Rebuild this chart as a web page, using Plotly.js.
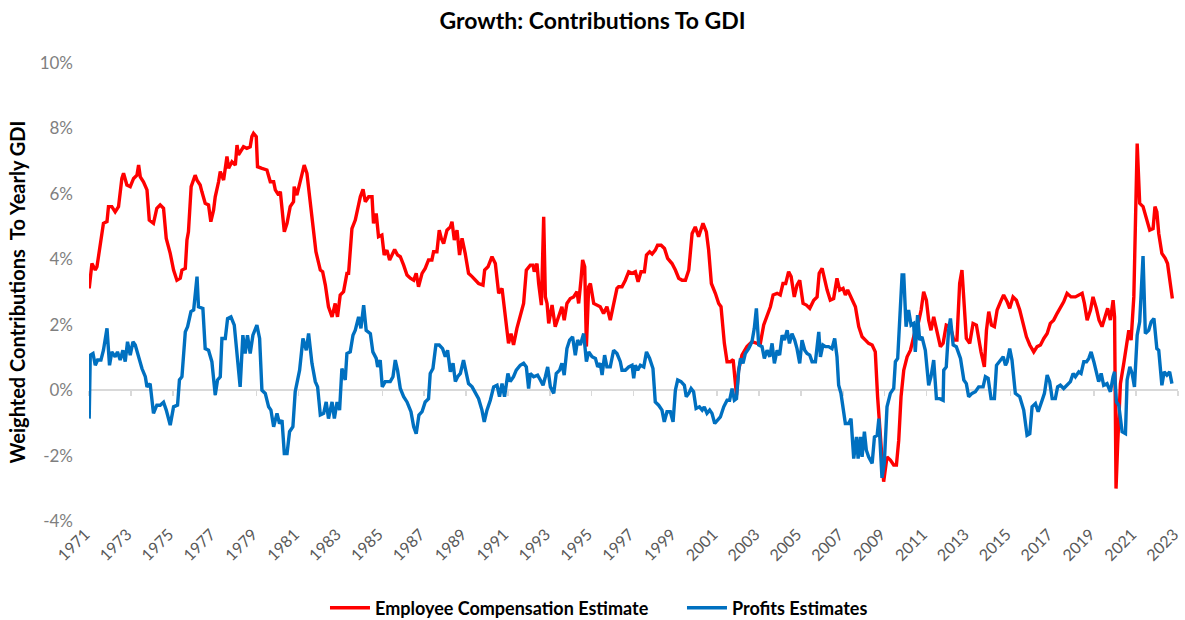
<!DOCTYPE html>
<html>
<head>
<meta charset="utf-8">
<script src="https://cdn.plot.ly/plotly-3.0.1.min.js"></script>
<style>html,body{margin:0;padding:0;background:#fff;}#chart{width:1185px;height:620px;}</style>
</head>
<body>
<div id="chart"></div>
<script>
var empYears = [1971.00,1971.13,1971.29,1971.37,1971.68,1971.85,1971.92,1972.08,1972.24,1972.40,1972.56,1972.64,1972.80,1972.96,1973.12,1973.28,1973.36,1973.44,1973.59,1973.76,1973.87,1974.07,1974.23,1974.39,1974.55,1974.68,1974.87,1975.03,1975.19,1975.35,1975.43,1975.59,1975.67,1975.74,1975.87,1976.06,1976.15,1976.30,1976.38,1976.54,1976.70,1976.81,1976.94,1977.02,1977.18,1977.26,1977.42,1977.58,1977.66,1977.82,1977.98,1978.06,1978.13,1978.30,1978.37,1978.53,1978.69,1978.77,1978.85,1978.98,1979.04,1979.25,1979.49,1979.65,1979.81,1979.89,1980.05,1980.13,1980.21,1980.32,1980.45,1980.60,1980.76,1980.79,1980.92,1981.08,1981.27,1981.40,1981.56,1981.72,1981.83,1982.04,1982.15,1982.28,1982.43,1982.60,1982.75,1982.86,1982.99,1983.15,1983.31,1983.39,1983.55,1983.71,1983.87,
1983.95,1984.08,1984.19,1984.35,1984.51,1984.58,1984.71,1984.82,1984.98,1985.09,1985.22,1985.35,1985.46,1985.59,1985.73,1985.86,1986.02,1986.18,1986.34,1986.50,1986.62,1986.73,1986.90,1987.05,1987.21,1987.37,1987.45,1987.61,1987.72,1987.82,1987.93,1988.09,1988.25,1988.33,1988.44,1988.57,1988.69,1988.81,1988.96,1989.12,1989.29,1989.44,1989.60,1989.81,1989.89,1990.05,1990.24,1990.40,1990.56,1990.72,1990.88,1991.03,1991.15,1991.27,1991.43,1991.59,1991.75,1991.88,1992.07,1992.20,1992.26,1992.39,1992.47,1992.60,1992.71,1992.79,1992.87,1992.95,1993.11,1993.26,1993.42,1993.58,1993.69,1993.82,1993.98,1994.14,1994.30,1994.38,1994.49,1994.57,1994.67,1994.75,1994.86,1994.94,1995.10,1995.26,1995.41,1995.57,1995.73,1995.89,1996.05,1996.21,
1996.29,1996.45,1996.61,1996.77,1996.93,1997.09,1997.22,1997.36,1997.52,1997.62,1997.77,1997.89,1998.04,1998.15,1998.32,1998.48,1998.63,1998.84,1999.00,1999.16,1999.32,1999.48,1999.64,1999.80,1999.95,2000.11,2000.32,2000.48,2000.59,2000.72,2000.91,2001.07,2001.18,2001.34,2001.47,2001.63,2001.76,2001.87,2001.92,2002.02,2002.18,2002.42,2002.66,2002.90,2003.06,2003.22,2003.38,2003.54,2003.67,2003.86,2004.01,2004.14,2004.27,2004.41,2004.53,2004.68,2004.81,2004.94,2005.10,2005.26,2005.42,2005.61,2005.77,2005.87,2006.01,2006.12,2006.25,2006.40,2006.56,2006.72,2006.85,2007.01,2007.12,2007.23,2007.39,2007.60,2007.76,
2007.92,2008.08,2008.23,2008.40,2008.55,2008.66,2008.79,2008.95,2009.11,2009.27,2009.43,2009.56,2009.67,2009.78,2009.91,2010.07,2010.23,2010.35,2010.46,2010.62,2010.74,2010.86,2010.99,2011.10,2011.21,2011.34,2011.50,2011.66,2011.79,2011.94,2012.14,2012.30,2012.45,2012.58,2012.69,2012.81,2012.90,2013.06,2013.22,2013.38,2013.49,2013.60,2013.76,2013.86,2013.97,2014.10,2014.24,2014.37,2014.53,2014.68,2014.85,2014.97,2015.13,2015.29,2015.45,2015.61,2015.77,2015.93,2016.12,2016.28,2016.44,2016.60,2016.76,2016.91,2017.07,2017.23,2017.39,2017.55,2017.71,2017.90,2018.11,2018.27,2018.43,2018.54,2018.67,2018.83,2018.95,2019.11,2019.24,2019.38,2019.54,2019.65,2019.78,2019.91,2019.98,2020.05,2020.13,2020.26,2020.42,2020.55,2020.66,2020.77,2020.90,2021.06,2021.18,2021.34,2021.50,2021.66,2021.82,2021.91,2022.00,2022.09,2022.24,2022.40,2022.51,2022.64,2022.74];
var empValues = [3.11,3.87,3.67,3.77,5.10,5.15,5.61,5.61,5.45,5.61,6.47,6.63,6.27,6.22,6.47,6.57,6.88,6.52,6.37,6.12,5.20,5.10,5.56,5.66,5.56,4.64,4.18,3.67,3.36,3.42,3.67,3.72,4.59,4.84,6.22,6.57,6.42,6.27,6.07,5.71,5.66,5.15,5.50,5.91,6.37,6.68,6.42,7.14,6.78,6.98,6.88,7.49,7.19,7.34,7.44,7.39,7.44,7.75,7.85,7.75,6.83,6.78,6.73,6.37,6.37,6.12,5.96,6.07,5.50,4.84,5.10,5.61,5.76,6.22,5.96,6.37,6.88,6.63,5.81,4.89,4.23,3.67,3.62,3.21,2.55,2.24,2.65,2.24,2.91,3.01,3.57,3.57,4.94,5.20,5.76,
5.91,6.14,5.76,5.91,5.91,5.10,5.40,4.69,4.74,4.13,4.28,3.98,4.13,4.30,4.13,4.08,3.82,3.52,3.42,3.36,3.57,3.16,3.57,3.72,3.98,3.98,4.23,4.23,4.89,4.64,4.48,4.89,4.99,5.15,4.59,4.89,4.13,4.64,4.18,3.57,3.47,3.36,3.26,3.21,3.67,3.77,4.08,3.87,2.96,3.11,2.24,1.43,1.73,1.38,1.89,2.24,2.65,3.67,3.82,3.82,3.62,3.87,3.26,2.60,5.30,2.85,2.65,2.04,2.60,1.94,2.24,2.55,2.14,2.65,2.80,2.85,3.01,2.65,3.36,3.98,3.77,1.33,3.16,3.26,2.65,2.60,2.55,2.34,2.55,2.14,2.65,3.11,
3.16,3.16,3.36,3.62,3.57,3.62,3.31,3.62,3.62,4.13,4.23,4.16,4.28,4.43,4.43,4.33,4.03,3.87,3.67,3.42,3.36,3.36,3.67,4.79,4.99,4.69,5.10,4.84,4.28,3.26,2.96,2.65,2.55,1.43,0.87,0.87,0.93,0.20,-0.15,0.61,1.07,1.33,1.48,1.43,1.43,1.99,2.24,2.55,2.91,2.96,2.91,3.26,3.26,3.62,3.47,2.85,3.21,3.36,2.65,2.60,2.50,2.75,2.85,3.57,3.72,3.36,3.06,2.75,2.80,3.42,3.06,3.11,2.91,3.06,2.85,2.55,1.94,
1.63,1.53,1.43,1.38,1.17,-0.20,-1.43,-2.80,-2.04,-2.14,-2.29,-2.29,-1.53,-0.20,0.61,1.02,1.22,1.53,1.83,2.09,2.45,3.01,2.75,2.14,1.83,2.24,1.83,1.33,1.43,1.99,1.94,1.53,1.53,3.26,3.67,2.34,1.58,1.43,2.04,1.99,1.53,1.17,0.71,1.83,2.40,1.99,1.94,2.45,2.70,2.91,2.70,2.50,2.85,2.75,2.45,2.04,1.63,1.38,1.17,1.33,1.38,1.58,1.73,2.04,2.14,2.34,2.50,2.70,2.96,2.85,2.85,2.91,2.96,2.65,2.14,2.45,2.85,2.50,2.14,1.94,2.24,2.50,2.14,2.75,2.24,-3.01,-1.63,0.20,0.82,1.33,1.83,1.53,2.85,7.54,5.71,5.61,5.20,4.89,4.94,5.61,5.45,4.79,4.18,4.03,3.87,3.26,2.80];

var profYears = [1971.00,1971.05,1971.18,1971.29,1971.40,1971.56,1971.68,1971.85,1971.97,1972.08,1972.24,1972.35,1972.48,1972.61,1972.72,1972.83,1972.96,1973.09,1973.20,1973.36,1973.52,1973.68,1973.76,1973.91,1974.07,1974.23,1974.39,1974.55,1974.68,1974.87,1975.03,1975.22,1975.31,1975.43,1975.59,1975.70,1975.86,1975.99,1976.15,1976.22,1976.43,1976.54,1976.70,1976.86,1977.02,1977.13,1977.26,1977.34,1977.50,1977.61,1977.77,1977.93,1978.06,1978.21,1978.34,1978.45,1978.56,1978.69,1978.82,1979.01,1979.14,1979.25,1979.41,1979.57,1979.68,1979.81,1979.97,1980.09,1980.21,1980.32,1980.45,1980.57,1980.73,1980.84,1981.05,1981.21,1981.37,1981.48,1981.64,1981.80,1981.91,1982.04,1982.20,1982.32,1982.43,1982.60,1982.71,1982.84,1982.96,1983.07,1983.23,1983.31,1983.47,1983.60,1983.71,1983.87,
1983.98,1984.11,1984.23,1984.43,1984.55,1984.71,1984.78,1984.90,1985.00,1985.14,1985.38,1985.51,1985.62,1985.73,1985.86,1986.02,1986.18,1986.37,1986.50,1986.62,1986.75,1986.90,1987.05,1987.21,1987.29,1987.42,1987.56,1987.72,1987.88,1988.01,1988.12,1988.25,1988.38,1988.49,1988.60,1988.73,1988.88,1989.01,1989.12,1989.29,1989.44,1989.60,1989.76,1989.87,1990.00,1990.16,1990.32,1990.48,1990.60,1990.72,1990.84,1991.00,1991.11,1991.27,1991.40,1991.59,1991.75,1991.88,1991.99,1992.07,1992.23,1992.42,1992.55,1992.68,1992.79,1992.90,1993.03,1993.19,1993.31,1993.47,1993.58,1993.69,1993.82,1993.95,1994.09,1994.22,1994.33,1994.46,1994.62,1994.75,1994.86,1995.02,1995.18,1995.29,1995.41,1995.50,1995.62,1995.73,1995.89,1996.05,1996.21,
1996.37,1996.45,1996.61,1996.77,1996.93,1997.01,1997.09,1997.20,1997.33,1997.49,1997.62,1997.77,1997.93,1998.04,1998.20,1998.36,1998.47,1998.60,1998.76,1998.89,1999.00,1999.11,1999.27,1999.43,1999.52,1999.64,1999.75,1999.87,1999.99,2000.15,2000.28,2000.38,2000.51,2000.64,2000.75,2000.88,2001.02,2001.15,2001.31,2001.47,2001.59,2001.71,2001.82,2001.92,2002.02,2002.11,2002.23,2002.34,2002.50,2002.66,2002.77,2002.87,2002.98,2003.14,2003.25,2003.38,2003.51,2003.62,2003.73,2003.86,2003.98,2004.10,2004.21,2004.34,2004.45,2004.57,2004.70,2004.81,2004.94,2005.05,2005.18,2005.29,2005.42,2005.53,2005.69,2005.85,2005.93,2006.05,2006.17,2006.32,2006.48,2006.61,2006.72,2006.80,2006.91,2007.01,2007.12,2007.28,2007.39,2007.52,2007.65,2007.73,2007.84,2007.92,2008.03,2008.12,2008.23,2008.40,2008.51,2008.64,2008.72,2008.87,2008.98,
2009.11,2009.27,2009.43,2009.51,2009.62,2009.75,2009.83,2009.91,2010.02,2010.14,2010.26,2010.38,2010.46,2010.57,2010.67,2010.78,2010.94,2011.10,2011.21,2011.34,2011.47,2011.63,2011.79,2011.82,2011.94,2012.05,2012.14,2012.27,2012.42,2012.62,2012.78,2012.90,2013.01,2013.17,2013.33,2013.49,2013.70,2013.81,2013.94,2014.08,2014.24,2014.34,2014.49,2014.66,2014.77,2014.85,2014.97,2015.08,2015.24,2015.45,2015.64,2015.80,2015.93,2016.04,2016.20,2016.33,2016.52,2016.63,2016.76,2016.88,2017.00,2017.15,2017.26,2017.39,2017.55,2017.71,2017.87,2018.00,2018.11,2018.27,2018.38,2018.51,2018.64,2018.75,2018.86,2018.99,2019.11,2019.22,2019.34,2019.46,2019.62,2019.78,2019.91,2019.98,2020.07,2020.18,2020.34,2020.50,2020.58,2020.71,2020.82,2020.93,2021.06,2021.18,2021.34,2021.45,2021.61,2021.73,2021.86,2022.00,2022.09,2022.24,2022.35,2022.48,2022.61,2022.72];
var profValues = [-0.87,1.07,1.12,0.76,0.92,0.92,1.22,1.89,0.76,1.17,1.02,1.17,0.92,1.22,0.87,1.48,1.07,1.48,1.38,0.97,0.66,0.41,0.10,0.20,-0.71,-0.46,-0.46,-0.37,-0.61,-1.07,-0.51,-0.46,0.31,0.41,1.78,1.94,2.40,2.45,3.47,2.55,2.50,1.27,1.22,0.87,-0.15,0.31,0.41,1.58,1.58,2.19,2.24,1.99,1.17,0.10,1.68,1.12,1.68,1.12,1.68,1.99,1.58,0.00,-0.10,-0.51,-0.61,-1.12,-0.71,-1.02,-0.92,-1.94,-1.94,-1.27,-1.12,-0.05,0.61,1.58,1.22,1.73,0.82,0.26,0.10,-0.76,-0.71,-0.36,-0.87,-0.36,-0.87,-0.36,-0.61,0.66,0.31,1.12,1.17,1.68,1.83,2.24,
1.89,2.60,1.83,1.73,1.17,0.97,0.71,0.92,0.10,0.26,0.26,0.41,0.92,0.61,0.05,-0.20,-0.36,-0.66,-1.12,-1.33,-0.76,-0.66,-0.36,-0.26,0.51,0.66,1.38,1.38,1.27,1.02,1.22,0.56,0.82,0.26,0.41,0.51,0.92,0.51,0.20,0.10,-0.10,-0.26,-0.61,-0.97,-0.61,-0.31,0.10,0.15,-0.20,0.20,-0.20,0.51,0.26,0.41,0.61,0.76,0.82,0.71,0.05,0.51,0.41,0.46,0.31,0.15,0.41,0.71,0.10,-0.10,0.51,0.61,0.82,0.46,1.27,1.53,1.63,1.07,1.53,1.38,1.73,0.87,1.17,1.02,0.97,0.71,0.82,0.46,1.07,0.71,0.71,1.22,1.12,
0.87,0.61,0.61,0.71,0.76,0.36,0.76,0.61,0.76,0.71,1.17,0.97,0.66,-0.36,-0.46,-0.61,-0.97,-0.66,-0.66,-0.97,0.00,0.31,0.26,0.15,-0.20,-0.10,0.05,-0.05,-0.56,-0.51,-0.61,-0.51,-0.71,-0.61,-0.71,-1.02,-0.92,-0.82,-0.51,-0.31,-0.31,0.05,-0.31,-0.26,0.56,0.97,0.82,1.12,1.27,1.48,1.89,2.50,1.38,1.33,0.97,1.22,1.02,1.43,0.82,1.22,1.07,1.68,1.53,1.83,1.43,1.73,1.53,1.27,0.82,1.53,1.22,1.12,1.07,0.87,0.87,1.78,1.02,1.38,1.33,1.33,1.27,1.58,1.02,0.15,-0.10,-0.51,-1.02,-1.02,-0.87,-2.09,-1.43,-2.09,-1.43,-2.04,-1.27,-1.83,-2.04,-2.24,-1.43,-1.38,-0.87,-2.68,-2.24,
-0.51,-0.10,0.05,0.87,0.97,2.34,3.52,3.52,1.94,2.45,1.99,2.04,1.17,2.29,1.53,1.63,1.22,0.15,0.41,0.92,-0.26,-0.26,-0.31,0.61,0.71,1.83,2.19,1.38,1.33,0.97,0.31,0.20,-0.20,-0.10,-0.05,0.10,0.10,0.41,0.36,-0.26,-0.26,0.76,0.87,1.02,0.76,0.87,1.27,0.92,-0.10,-0.20,-0.61,-1.38,-1.33,-0.51,-0.41,-0.66,-0.31,-0.10,0.46,0.26,-0.26,-0.26,0.10,0.15,0.05,0.15,0.26,0.51,0.41,0.56,0.51,0.87,0.87,0.97,1.17,0.87,0.51,0.26,0.51,0.15,0.20,-0.05,0.41,0.56,-0.36,-0.46,-1.27,-1.33,0.31,0.71,0.51,0.10,1.68,2.09,4.10,1.73,1.83,2.09,2.19,1.27,1.22,0.15,0.56,0.46,0.56,0.20];

var tickYears = [1971,1973,1975,1977,1979,1981,1983,1985,1987,1989,1991,1993,1995,1997,1999,2001,2003,2005,2007,2009,2011,2013,2015,2017,2019,2021,2023];
var yTicks = [-4,-2,0,2,4,6,8,10];

var FONT = 'Lato, "Liberation Sans", sans-serif';

var traces = [
  {x: empYears, y: empValues, type: 'scatter', mode: 'lines', name: 'Employee Compensation Estimate',
   line: {color: '#ff0000', width: 3.4}, hoverinfo: 'skip'},
  {x: profYears, y: profValues, type: 'scatter', mode: 'lines', name: 'Profits Estimates',
   line: {color: '#0070c0', width: 3.4}, hoverinfo: 'skip'},
  {x: [], y: [], xaxis: 'x2', yaxis: 'y', type: 'scatter', mode: 'lines', showlegend: false, hoverinfo: 'skip'}
];

var layout = {
  width: 1185, height: 620,
  paper_bgcolor: '#ffffff', plot_bgcolor: '#ffffff',
  margin: {l: 89, r: 7, t: 63, b: 99, autoexpand: false},
  font: {family: FONT, color: '#595959'},
  title: {text: '<b>Growth: Contributions To GDI</b>', x: 0.5, xanchor: 'center', y: 0.967, yanchor: 'middle',
          font: {family: FONT, size: 23, color: '#000000'}},
  showlegend: true,
  legend: {orientation: 'h', x: 0.2167, xanchor: 'left', y: -0.19, yanchor: 'middle', entrywidth: 302,
           font: {family: FONT, size: 18, color: '#000000', weight: 'bold'}, itemwidth: 40},
  xaxis: {range: [1970.99, 2023.01], tickmode: 'array', tickvals: tickYears, ticktext: tickYears.map(String),
          tickangle: -45, showgrid: false, zeroline: false, showline: false, ticks: '', automargin: false,
          ticklabeloverflow: 'allow', ticklabelshift: -4,
          tickfont: {family: FONT, size: 16, color: '#595959'}, fixedrange: true},
  xaxis2: {overlaying: 'x', anchor: 'free', position: 4 / 14, range: [1970.99, 2023.01], tickmode: 'array', tickvals: tickYears,
           showticklabels: false, ticks: 'outside', ticklen: 5, tickwidth: 1.5, tickcolor: '#d9d9d9', automargin: false,
           showline: true, linecolor: '#d9d9d9', linewidth: 2, showgrid: false, zeroline: false, layer: 'below traces'},
  yaxis: {range: [-4, 10], tickmode: 'array', tickvals: yTicks, ticktext: yTicks.map(function (v) { return v + '%'; }),
          showgrid: false, zeroline: false, showline: false, ticks: '', ticklabelstandoff: 15, automargin: false,
          tickfont: {family: FONT, size: 17, color: '#7f7f7f'},
          title: {text: '<b>Weighted Contributions  To Yearly GDI</b>', standoff: 8,
                  font: {family: FONT, size: 20, color: '#000000'}}, fixedrange: true}
};

Plotly.newPlot('chart', traces, layout, {displayModeBar: false, staticPlot: true});
</script>
</body>
</html>
